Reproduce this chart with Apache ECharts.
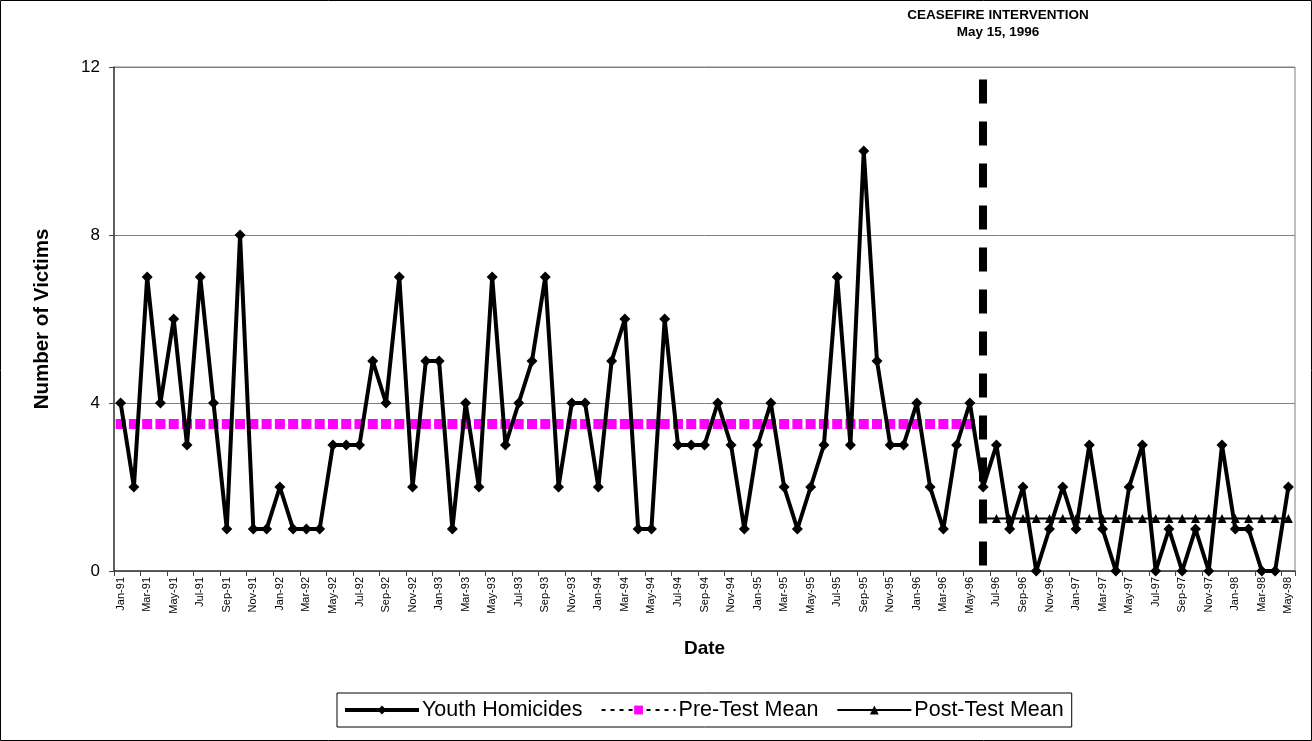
<!DOCTYPE html>
<html>
<head>
<meta charset="utf-8">
<title>Youth Homicides</title>
<script src="https://cdn.jsdelivr.net/npm/echarts@6/dist/echarts.min.js"></script>
<style>
  html, body { margin: 0; padding: 0; background: #fff; }
  #chart { width: 1312px; height: 741px; }
</style>
</head>
<body>
<div id="chart"></div>
<script>
// monthly categories, Jan-91 .. May-98
var months = [
  'Jan-91','Feb-91','Mar-91','Apr-91','May-91','Jun-91','Jul-91','Aug-91','Sep-91','Oct-91','Nov-91','Dec-91',
  'Jan-92','Feb-92','Mar-92','Apr-92','May-92','Jun-92','Jul-92','Aug-92','Sep-92','Oct-92','Nov-92','Dec-92',
  'Jan-93','Feb-93','Mar-93','Apr-93','May-93','Jun-93','Jul-93','Aug-93','Sep-93','Oct-93','Nov-93','Dec-93',
  'Jan-94','Feb-94','Mar-94','Apr-94','May-94','Jun-94','Jul-94','Aug-94','Sep-94','Oct-94','Nov-94','Dec-94',
  'Jan-95','Feb-95','Mar-95','Apr-95','May-95','Jun-95','Jul-95','Aug-95','Sep-95','Oct-95','Nov-95','Dec-95',
  'Jan-96','Feb-96','Mar-96','Apr-96','May-96','Jun-96','Jul-96','Aug-96','Sep-96','Oct-96','Nov-96','Dec-96',
  'Jan-97','Feb-97','Mar-97','Apr-97','May-97','Jun-97','Jul-97','Aug-97','Sep-97','Oct-97','Nov-97','Dec-97',
  'Jan-98','Feb-98','Mar-98','Apr-98','May-98'
];

// youth homicide victims per month
var homicides = [
  4, 2, 7, 4, 6, 3, 7, 4, 1, 8, 1, 1,
  2, 1, 1, 1, 3, 3, 3, 5, 4, 7, 2, 5,
  5, 1, 4, 2, 7, 3, 4, 5, 7, 2, 4, 4,
  2, 5, 6, 1, 1, 6, 3, 3, 3, 4, 3, 1,
  3, 4, 2, 1, 2, 3, 7, 3, 10, 5, 3, 3,
  4, 2, 1, 3, 4, 2, 3, 1, 2, 0, 1, 2,
  1, 3, 1, 0, 2, 3, 0, 1, 0, 1, 0, 3,
  1, 1, 0, 0, 2
];

var preTestMean = 3.5;
var postTestMean = 1.25;
var lastPreMonth = 'May-96';
var interventionMonth = 'Jun-96';
var yTicks = [0, 4, 8, 12];

var chartDom = document.getElementById('chart');
var myChart = echarts.init(chartDom);

var preEnd = months.indexOf(lastPreMonth);
var postStart = months.indexOf(interventionMonth);

// mean lines only cover their own period
var preData = months.map(function (m, i) { return i <= preEnd ? preTestMean : '-'; });
var postData = months.map(function (m, i) { return i >= postStart ? postTestMean : '-'; });

var font = 'Liberation Sans, Arial, sans-serif';

var option = {
  animation: false,
  backgroundColor: '#fff',
  textStyle: { fontFamily: font, color: '#000' },
  grid: {
    left: 114,
    right: 17,
    top: 67,
    bottom: 170,
    show: true,
    borderColor: '#808080',
    borderWidth: 1
  },
  graphic: [
    {
      type: 'rect',
      shape: { x: 0.5, y: 0.5, width: 1311, height: 740 },
      style: { fill: 'none', stroke: '#000', lineWidth: 1 },
      silent: true
    },
    {
      type: 'text',
      x: 998,
      y: 8,
      style: { text: 'CEASEFIRE INTERVENTION', font: 'bold 13.5px ' + font, fill: '#000', align: 'center' }
    },
    {
      type: 'text',
      x: 998,
      y: 25,
      style: { text: 'May 15, 1996', font: 'bold 13.5px ' + font, fill: '#000', align: 'center' }
    }
  ],
  legend: {
    left: 337,
    top: 693,
    orient: 'horizontal',
    borderColor: '#000',
    borderWidth: 1,
    padding: [6, 8, 6, 6],
    itemWidth: 74,
    itemHeight: 11,
    itemGap: 18,
    textStyle: { fontSize: 21.5, color: '#000', fontFamily: font, padding: [0, 0, 0, -2] },
    data: [
      { name: 'Youth Homicides', lineStyle: { width: 4, color: '#000' } },
      { name: 'Pre-Test Mean', lineStyle: { opacity: 1, color: '#000', type: [4, 5], width: 2 } },
      { name: 'Post-Test Mean', lineStyle: { width: 2, color: '#000' } }
    ]
  },
  xAxis: {
    type: 'category',
    data: months,
    boundaryGap: true,
    name: 'Date',
    nameLocation: 'middle',
    nameGap: 68,
    nameTextStyle: { fontSize: 19, fontWeight: 'bold', color: '#000' },
    axisLine: { lineStyle: { color: '#404040', width: 1.5 } },
    axisTick: { show: true, interval: 1, length: 5, lineStyle: { color: '#404040' } },
    axisLabel: { interval: 1, rotate: 90, fontSize: 11, color: '#000', margin: 6 },
    splitLine: { show: false }
  },
  yAxis: {
    type: 'value',
    min: yTicks[0],
    max: yTicks[yTicks.length - 1],
    interval: 4,
    name: 'Number of Victims',
    nameLocation: 'middle',
    nameGap: 61,
    nameTextStyle: { fontSize: 20.5, fontWeight: 'bold', color: '#000' },
    axisLine: { show: true, lineStyle: { color: '#404040', width: 1.5 } },
    axisTick: { show: true, length: 5, lineStyle: { color: '#404040' } },
    axisLabel: { fontSize: 17, color: '#000', margin: 14 },
    splitLine: { show: true, lineStyle: { color: '#808080', width: 1 } }
  },
  series: [
    {
      name: 'Pre-Test Mean',
      type: 'line',
      data: preData,
      symbol: 'rect',
      symbolSize: 10,
      showAllSymbol: true,
      itemStyle: { color: '#FF00FF' },
      lineStyle: { opacity: 0 },
      z: 2
    },
    {
      name: 'Post-Test Mean',
      type: 'line',
      data: postData,
      symbol: 'triangle',
      symbolSize: 9,
      showAllSymbol: true,
      itemStyle: { color: '#000' },
      lineStyle: { color: '#000', width: 2 },
      z: 3
    },
    {
      name: 'Youth Homicides',
      type: 'line',
      data: homicides,
      symbol: 'diamond',
      symbolSize: 11,
      showAllSymbol: true,
      itemStyle: { color: '#000' },
      lineStyle: { color: '#000', width: 4 },
      z: 4,
      markLine: {
        silent: true,
        symbol: 'none',
        label: { show: false },
        lineStyle: { color: '#000', width: 8, type: [24, 18] },
        data: [
          [
            { coord: [interventionMonth, 11.7] },
            { coord: [interventionMonth, 0] }
          ]
        ]
      }
    }
  ]
};

option && myChart.setOption(option);
</script>
</body>
</html>
